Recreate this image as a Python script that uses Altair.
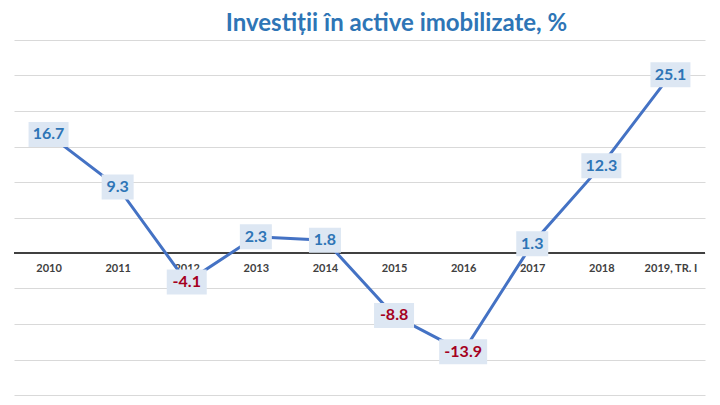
import altair as alt
import pandas as pd

years = ["2010", "2011", "2012", "2013", "2014", "2015", "2016", "2017", "2018", "2019, TR. I"]
values = [16.7, 9.3, -4.1, 2.3, 1.8, -8.8, -13.9, 1.3, 12.3, 25.1]
grid_values = [-20, -15, -10, -5, 0, 5, 10, 15, 20, 25, 30]

df = pd.DataFrame({"year": years, "value": values})
df["label"] = [f"{v:.1f}" for v in values]
df["sign"] = ["neg" if v < 0 else "pos" for v in values]

FONT = "Lato"
PLOT_W = 691
PLOT_H = 355
y_dom = [-20, 30]
zero_offset = -PLOT_H * (0 - y_dom[0]) / (y_dom[1] - y_dom[0])

y_scale = alt.Scale(domain=y_dom, nice=False, zero=False)
y_axis = alt.Axis(values=grid_values, labels=False, ticks=False, domain=False,
                  title=None, gridColor="#d9d9d9", gridWidth=1.2, tickCount=11)

x_enc = alt.X(
    "year:N", sort=years,
    scale=alt.Scale(type="point", padding=0.5),
    axis=alt.Axis(title=None, ticks=False, domain=False, grid=False, labelAngle=0,
                  labelFont=FONT, labelFontSize=11, labelFontWeight="bold",
                  labelColor="#404040", labelPadding=9, offset=zero_offset),
)
y_enc = alt.Y("value:Q", scale=y_scale, axis=y_axis)

base = alt.Chart(df).encode(x=x_enc, y=y_enc)

zero_rule = alt.Chart(pd.DataFrame({"value": [0]})).mark_rule(
    color="#404040", strokeWidth=2
).encode(y=alt.Y("value:Q", scale=y_scale, axis=y_axis))

line = base.mark_line(color="#4472c4", strokeWidth=3)

boxes = base.transform_calculate(
    hw="(length(datum.label) * 8 + 8) / 2 / 25",
).transform_calculate(
    path="'M' + (-datum.hw) + ',-0.5H' + datum.hw + 'V0.5H' + (-datum.hw) + 'Z'"
).mark_point(filled=True, fill="#dde7f3", opacity=1, strokeWidth=0).encode(
    shape=alt.Shape("path:N", scale=None),
    size=alt.value(2500),
)

labels = base.mark_text(font=FONT, fontSize=16, fontWeight="bold", baseline="middle").encode(
    text="label:N",
    color=alt.Color("sign:N", scale=alt.Scale(domain=["pos", "neg"], range=["#2e75b6", "#a50021"]), legend=None),
)

chart = alt.layer(zero_rule, line, boxes, labels).properties(
    width=PLOT_W,
    height=PLOT_H,
    autosize="none",
    view=alt.ViewBackground(stroke="transparent", strokeWidth=0),
    padding={"left": 6, "top": 32, "right": 7, "bottom": 2},
    title=alt.Title(
        "Investiții în active imobilizate, %",
        font=FONT, fontSize=24, fontWeight="bold", color="#2e75b6",
        anchor="middle", dx=37, offset=4,
    ),
).configure_view(stroke="transparent", strokeWidth=0).configure_axisX(grid=False).configure(background="white")

chart.save("out.html", embed_options={"renderer": "svg", "actions": False})
